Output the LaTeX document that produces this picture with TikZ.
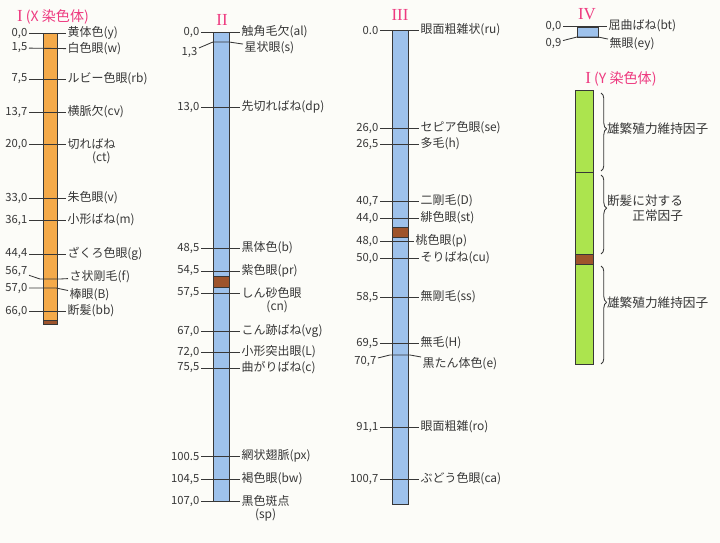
\documentclass[tikz,border=0pt]{standalone}
\usepackage{fontspec}
\newfontfamily\jpfont{Noto Sans CJK JP}
\newfontfamily\romfont{Liberation Serif}
\usetikzlibrary{positioning, decorations.pathreplacing}

\definecolor{paper}{RGB}{252,252,248}
\definecolor{xorange}{RGB}{244,170,74}
\definecolor{chblue}{RGB}{158,194,236}
\definecolor{ygreen}{RGB}{172,228,78}
\definecolor{band}{RGB}{158,84,44}
\definecolor{title}{RGB}{238,58,128}
\definecolor{ink}{RGB}{55,55,55}

\tikzstyle{num} = [anchor=east, inner sep=1pt, font=\jpfont\fontsize{8}{9}\selectfont, text=ink]
\tikzstyle{gene} = [anchor=west, inner sep=1pt, font=\jpfont\fontsize{8.5}{10}\selectfont, text=ink]
\tikzstyle{sub} = [inner sep=1pt, font=\jpfont\fontsize{8.5}{10}\selectfont, text=ink]
\tikzstyle{head} = [font=\jpfont\fontsize{10}{12}\selectfont, text=title]
\tikzstyle{tick} = [ink, line width=0.6pt]
\tikzstyle{bar} = [draw=ink, line width=0.6pt]
\tikzstyle{knot} = [draw=ink, fill=band, line width=0.6pt]
\tikzstyle{brace} = [ink, line width=0.6pt, decorate]
\tikzstyle{factor} = [right=3pt, inner sep=1pt, font=\jpfont\fontsize{9}{11}\selectfont, text=ink, align=right]

\begin{document}
\begin{tikzpicture}[x=0.025cm, y=-0.025cm]

\fill [paper] (0,0) rectangle (720,543);

% Cromosoma I (X)
\node (tX) [head] at (53,17) {{\romfont\fontsize{12}{12}\selectfont I} (X 染色体)};
\draw [bar, fill=xorange] (43,33) rectangle (57,324);
\draw [knot] (43,320) rectangle (57,324);

\node (ny) [num] at (29,33) {0,0};
\node (y) [gene] at (66,33) {黄体色(y)};
\node (nw) [num] at (29,48) {1,5};
\node (w) [gene] at (66,49) {白色眼(w)};
\node (nrb) [num] at (29,79) {7,5};
\node (rb) [gene] at (66,79) {ルビー色眼(rb)};
\node (ncv) [num] at (29,112) {13,7};
\node (cv) [gene] at (66,112) {横脈欠(cv)};
\node (nct) [num] at (29,144) {20,0};
\node (ct) [gene] at (66,144) {切ればね};
\node (ct2) [sub, below=-1pt of ct, xshift=7pt] {(ct)};
\node (nv) [num] at (29,198) {33,0};
\node (v) [gene] at (66,198) {朱色眼(v)};
\node (nm) [num] at (29,220) {36,1};
\node (m) [gene] at (66,220) {小形ばね(m)};
\node (ng) [num] at (29,254) {44,4};
\node (g) [gene] at (66,254) {ざくろ色眼(g)};
\node (nf) [num] at (29,271) {56,7};
\node (f) [gene] at (68,277) {さ状剛毛(f)};
\node (nB) [num] at (29,288) {57,0};
\node (B) [gene] at (68,295) {棒眼(B)};
\node (nbb) [num] at (29,311) {66,0};
\node (bb) [gene] at (66,311) {断髪(bb)};
\coordinate (fL) at (40,279);
\coordinate (fR) at (60,279);
\coordinate (BR) at (56,288);

\draw [tick] (ny) -- (y);
\draw [tick] (nw) -- (w);
\draw [tick] (nrb) -- (rb);
\draw [tick] (ncv) -- (cv);
\draw [tick] (nct) -- (ct);
\draw [tick] (nv) -- (v);
\draw [tick] (nm) -- (m);
\draw [tick] (ng) -- (g);
\draw [tick] (nf) -- (fL) -- (fR) -- (f);
\draw [tick] (nB) -- (BR) -- (B);
\draw [tick] (nbb) -- (bb);

% Cromosoma II
\node (tII) [head, font=\romfont\fontsize{12}{12}\selectfont] at (222,20) {II};
\draw [bar, fill=chblue] (213,32) rectangle (229,501);
\draw [knot] (213,276) rectangle (229,287);

\node (nal) [num] at (201,32) {0,0};
\node (al) [gene] at (240,32) {触角毛欠(al)};
\node (nS) [num] at (199,52) {1,3};
\node (S) [gene] at (243,48) {星状眼(s)};
\node (ndp) [num] at (201,107) {13,0};
\node (dp) [gene] at (240,107) {先切ればね(dp)};
\node (nb) [num] at (201,248) {48,5};
\node (b) [gene] at (240,248) {黒体色(b)};
\node (npr) [num] at (201,271) {54,5};
\node (pr) [gene] at (240,271) {紫色眼(pr)};
\node (ncn) [num] at (201,293) {57,5};
\node (cn) [gene] at (240,293) {しん砂色眼};
\node (cn2) [sub, below=-1pt of cn, xshift=4pt] {(cn)};
\node (nvg) [num] at (201,331) {67,0};
\node (vg) [gene] at (240,331) {こん跡ばね(vg)};
\node (nL) [num] at (201,352) {72,0};
\node (L) [gene] at (240,352) {小形突出眼(L)};
\node (nc) [num] at (201,368) {75,5};
\node (c) [gene] at (240,368) {曲がりばね(c)};
\node (npx) [num] at (201,456) {100.5};
\node (px) [gene] at (240,456) {網状翅脈(px)};
\node (nbw) [num] at (201,479) {104,5};
\node (bw) [gene] at (240,479) {褐色眼(bw)};
\node (nsp) [num] at (201,501) {107,0};
\node (sp) [gene] at (240,501) {黒色斑点};
\node (sp2) [sub, below=-1pt of sp] {(sp)};
\coordinate (SL) at (213,42);
\coordinate (SR) at (229,42);

\draw [tick] (nal) -- (al);
\draw [tick] (nS) -- (SL) -- (SR) -- (S);
\draw [tick] (ndp) -- (dp);
\draw [tick] (nb) -- (b);
\draw [tick] (npr) -- (pr);
\draw [tick] (ncn) -- (cn);
\draw [tick] (nvg) -- (vg);
\draw [tick] (nL) -- (L);
\draw [tick] (nc) -- (c);
\draw [tick] (npx) -- (px);
\draw [tick] (nbw) -- (bw);
\draw [tick] (nsp) -- (sp);

% Cromosoma III
\node (tIII) [head, font=\romfont\fontsize{12}{12}\selectfont] at (400,15) {III};
\draw [bar, fill=chblue] (392,30) rectangle (408,504);
\draw [knot] (392,227) rectangle (408,237);

\node (nru) [num] at (380,30) {0.0};
\node (ru) [gene] at (419,30) {眼面粗雑状(ru)};
\node (nse) [num] at (380,128) {26,0};
\node (se) [gene] at (419,128) {セピア色眼(se)};
\node (nh) [num] at (380,144) {26,5};
\node (h) [gene] at (419,144) {多毛(h)};
\node (nD) [num] at (380,201) {40,7};
\node (D) [gene] at (419,201) {二剛毛(D)};
\node (nst) [num] at (380,218) {44,0};
\node (st) [gene] at (419,218) {緋色眼(st)};
\node (np) [num] at (380,241) {48,0};
\node (p) [gene] at (414,241) {桃色眼(p)};
\node (ncu) [num] at (380,258) {50,0};
\node (cu) [gene] at (419,258) {そりばね(cu)};
\node (nss) [num] at (380,297) {58,5};
\node (ss) [gene] at (419,297) {無剛毛(ss)};
\node (nH) [num] at (380,343) {69,5};
\node (H) [gene] at (419,343) {無毛(H)};
\node (ne) [num] at (378,361) {70,7};
\node (e) [gene] at (421,364) {黒たん体色(e)};
\node (nro) [num] at (380,427) {91,1};
\node (ro) [gene] at (419,427) {眼面粗雑(ro)};
\node (nca) [num] at (380,479) {100,7};
\node (ca) [gene] at (419,479) {ぶどう色眼(ca)};
\coordinate (eL) at (390,355);
\coordinate (eR) at (410,355);

\draw [tick] (nru) -- (ru);
\draw [tick] (nse) -- (se);
\draw [tick] (nh) -- (h);
\draw [tick] (nD) -- (D);
\draw [tick] (nst) -- (st);
\draw [tick] (np) -- (p);
\draw [tick] (ncu) -- (cu);
\draw [tick] (nss) -- (ss);
\draw [tick] (nH) -- (H);
\draw [tick] (ne) -- (eL) -- (eR) -- (e);
\draw [tick] (nro) -- (ro);
\draw [tick] (nca) -- (ca);

% Cromosoma IV
\node (tIV) [head, font=\romfont\fontsize{12}{12}\selectfont] at (587,14) {IV};
\draw [bar, fill=chblue] (577,27) rectangle (598,37);

\node (nbt) [num] at (563,26) {0,0};
\node (bt) [gene] at (607,26) {屈曲ばね(bt)};
\node (ney) [num] at (563,43) {0,9};
\node (ey) [gene] at (608,44) {無眼(ey)};
\coordinate (eyL) at (577,37);
\coordinate (eyR) at (598,37);

\draw [tick] (nbt) -- (bt);
\draw [tick] (ney) -- (eyL) -- (eyR) -- (ey);

% Cromosoma I (Y)
\node (tY) [head] at (621,79) {{\romfont\fontsize{12}{12}\selectfont I} (Y 染色体)};
\draw [bar, fill=ygreen] (575,90) rectangle (593,364);
\draw [tick] (575,172) -- (593,172);
\draw [knot] (575,254) rectangle (593,264);

\draw [brace, decoration={brace, amplitude=4pt, aspect=0.46}] (601,93) -- (601,171)
  node (kf1) [factor, pos=0.46] {雄繁殖力維持因子};
\draw [brace, decoration={brace, amplitude=4pt, aspect=0.42}] (601,175) -- (601,254)
  node (kbb) [factor, pos=0.42] {断髪に対する\\正常因子};
\draw [brace, decoration={brace, amplitude=4pt, aspect=0.37}] (601,266) -- (601,364)
  node (kf2) [factor, pos=0.37] {雄繁殖力維持因子};

\end{tikzpicture}
\end{document}
